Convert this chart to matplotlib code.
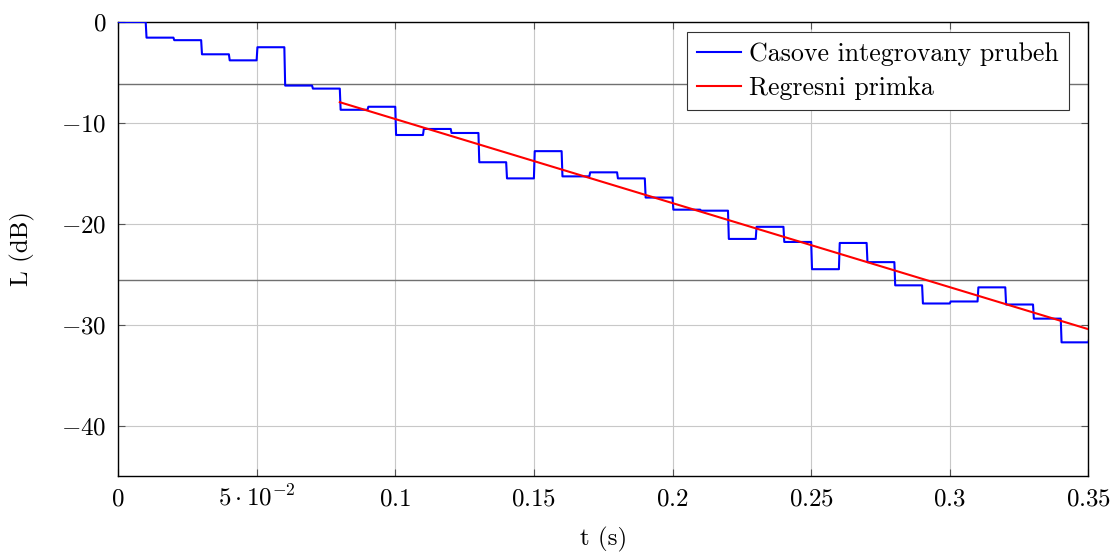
import matplotlib
matplotlib.use("Agg")
import matplotlib.pyplot as plt
import numpy as np

plt.rcParams['font.family'] = 'serif'
plt.rcParams['font.serif'] = ['cmr10']
plt.rcParams['mathtext.fontset'] = 'cm'
plt.rcParams['axes.unicode_minus'] = True

# step values of the integrated decay, one per 10 ms block
step_dt = 0.01
step_L = [0.0, -1.55, -1.8, -3.2, -3.8, -2.5, -6.3, -6.6, -8.7, -8.4,
          -11.2, -10.6, -11.0, -13.9, -15.5, -12.8, -15.3, -14.9, -15.5, -17.4,
          -18.6, -18.7, -21.5, -20.3, -21.8, -24.5, -21.9, -23.8, -26.1, -27.9,
          -27.7, -26.3, -28.0, -29.4, -31.75]
end_L = -31.3

# regression line end points
reg_t = [0.08, 0.35]
reg_L = [-7.95, -30.45]

# evaluation range (dark horizontal lines)
range_L = [-6.1, -25.6]

xticks = [0, 0.05, 0.1, 0.15, 0.2, 0.25, 0.3, 0.35]
xticklabels = ['$0$', r'$5\cdot10^{-2}$', '$0.1$', '$0.15$', '$0.2$', '$0.25$', '$0.3$', '$0.35$']
yticks = [0, -10, -20, -30, -40]
yticklabels = ['$0$', '$-10$', '$-20$', '$-30$', '$-40$']

# build the step curve with short ramps between blocks
ramp = 0.0003
t = []
L = []
for k, v in enumerate(step_L):
    t0 = k * step_dt
    t.append(t0 + (ramp if k > 0 else 0))
    L.append(v)
    t.append(t0 + step_dt)
    L.append(v)
t.append(len(step_L) * step_dt + 0.0003)
L.append(end_L)

fig = plt.figure(figsize=(11.15, 5.53), dpi=100)
ax = fig.add_axes([0.1058, 0.1392, 0.8704, 0.8210])

for y in range_L:
    ax.axhline(y, color='#707070', lw=1.0, zorder=1)

ax.plot(t, L, color='blue', lw=1.5, label='Casove integrovany prubeh', zorder=3)
ax.plot(reg_t, reg_L, color='red', lw=1.5, label='Regresni primka', zorder=4)

ax.set_xlim(0, 0.35)
ax.set_ylim(-45, 0)
ax.set_xticks(xticks)
ax.set_xticklabels(xticklabels)
ax.set_yticks(yticks)
ax.set_yticklabels(yticklabels)
ax.tick_params(direction='in', length=5, width=0.8, color='#555555', labelsize=18,
               top=True, right=True)
ax.tick_params(axis='x', pad=21)
ax.tick_params(axis='y', pad=8)
for lab in ax.get_xticklabels():
    lab.set_verticalalignment('baseline')
ax.grid(True, color='#c8c8c8', lw=0.8, zorder=0)
ax.set_axisbelow(True)
for s in ax.spines.values():
    s.set_linewidth(1.0)

ax.set_xlabel('t (s)', fontsize=18, labelpad=12)
ax.set_ylabel('L (dB)', fontsize=18, labelpad=19)

leg = ax.legend(loc='upper right', fontsize=18.6, frameon=True, fancybox=False,
                edgecolor='#333333', framealpha=1, handlelength=1.7,
                handletextpad=0.3, borderpad=0.4, labelspacing=0.4,
                borderaxespad=0, bbox_to_anchor=(0.980, 0.978))
leg.get_frame().set_linewidth(0.8)

fig.savefig('out.png', dpi=100)
